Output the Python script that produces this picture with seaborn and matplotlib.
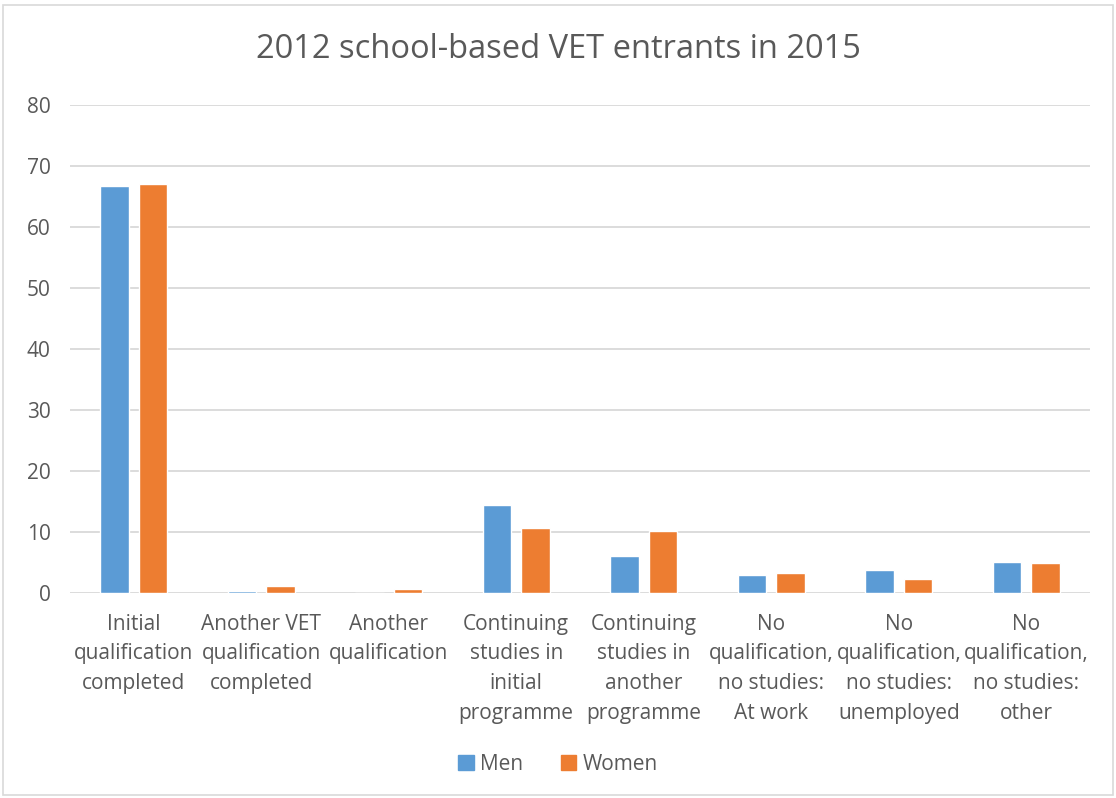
import numpy as np
import pandas as pd
from matplotlib import pyplot as plt
import matplotlib.patches as mpatches
import seaborn as sns

# 数据
categories = [
    "Initial\nqualification\ncompleted",
    "Another VET\nqualification\ncompleted",
    "Another\nqualification",
    "Continuing\nstudies in\ninitial\nprogramme",
    "Continuing\nstudies in\nanother\nprogramme",
    "No\nqualification,\nno studies:\nAt work",
    "No\nqualification,\nno studies:\nunemployed",
    "No\nqualification,\nno studies:\nother",
]
men = [66.8, 0.3, 0.0, 14.5, 6.0, 2.9, 3.8, 5.1]
women = [67.0, 1.1, 0.6, 10.7, 10.1, 3.2, 2.3, 4.9]
series = ["Men", "Women"]
colors = ["#5B9BD5", "#ED7D31"]

df = pd.DataFrame({
    "cat": categories * 2,
    "value": men + women,
    "who": [series[0]] * len(categories) + [series[1]] * len(categories),
})

sns.set_theme(style="white")
plt.rcParams['font.family'] = ['Open Sans', 'DejaVu Sans']
text_col = "#595959"

fig = plt.figure(figsize=(11.16, 7.98), dpi=100)
ax = fig.add_axes([70 / 1116, 1 - 593 / 798, 1020 / 1116, 488 / 798])

sns.barplot(data=df, x="cat", y="value", hue="who", palette=colors,
            width=0.6, gap=0.25, saturation=1, ax=ax, legend=False)

ax.set_ylim(0, 80)
ax.set_yticks(np.arange(0, 81, 10))
ax.set_xlim(-0.5, len(categories) - 0.5)
ax.yaxis.grid(True, color="#D9D9D9", linewidth=1.3)
ax.set_axisbelow(True)
for s in ["top", "right", "left", "bottom"]:
    ax.spines[s].set_visible(False)
ax.tick_params(axis="both", length=0, colors=text_col, labelsize=15)
ax.tick_params(axis="x", pad=15)
ax.tick_params(axis="y", pad=14)
ax.set_xlabel("")
ax.set_ylabel("")
ax.set_xticks(range(len(categories)))
ax.set_xticklabels(categories, linespacing=1.54, va="top", fontsize=15)

fig.text(0.5, 1 - 49 / 798, "2012 school-based VET entrants in 2015",
         ha="center", va="center", fontsize=23.5, color=text_col)

handles = [mpatches.Patch(color=c, label=s) for s, c in zip(series, colors)]
fig.legend(handles=handles, loc="center", bbox_to_anchor=(0.5, 1 - 764 / 798),
           ncol=2, frameon=False, fontsize=15, labelcolor=text_col,
           handlelength=0.75, handleheight=0.75, handletextpad=0.3, columnspacing=1.8)

# 外框
fig.patches.append(mpatches.Rectangle((3 / 1116, 3 / 798), 1 - 6 / 1116, 1 - 8 / 798,
                                      transform=fig.transFigure, fill=False,
                                      edgecolor="#D9D9D9", linewidth=1.2))

fig.savefig("out.png", dpi=100)
